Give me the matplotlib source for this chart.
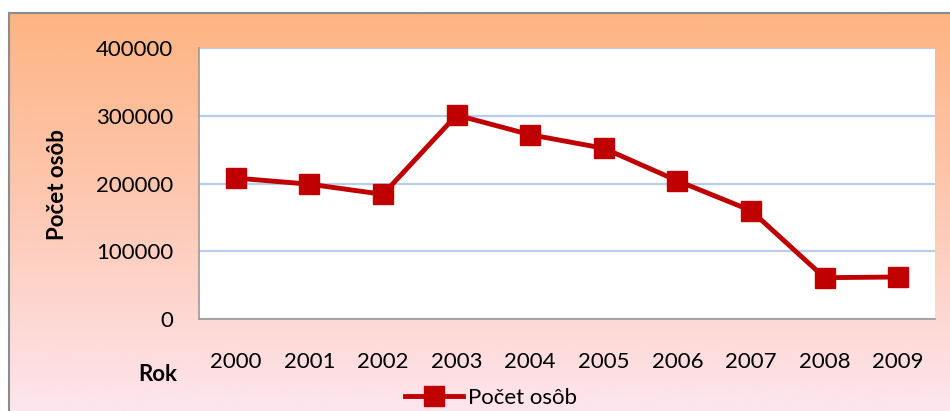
import numpy as np
import matplotlib
matplotlib.use("Agg")
import matplotlib.pyplot as plt
from matplotlib.colors import LinearSegmentedColormap
from matplotlib.lines import Line2D

years = ["2000", "2001", "2002", "2003", "2004", "2005", "2006", "2007", "2008", "2009"]
pocet_osob = [208000, 199000, 184000, 301000, 272000, 252000, 204000, 160000, 61000, 62000]
y_ticks = [0, 100000, 200000, 300000, 400000]
series_name = "Počet osôb"
y_label = "Počet osôb"
x_label = "Rok"

plt.rcParams['font.family'] = ['Lato', 'DejaVu Sans']

W, H = 950, 411
fig = plt.figure(figsize=(W / 100, H / 100), dpi=100)
fig.patch.set_facecolor("white")

# gradient background for the chart area
bg = fig.add_axes([8 / W, 0, 1 - 8 / W, 1 - 13 / H], zorder=0)
cmap = LinearSegmentedColormap.from_list("g", ["#FDB482", "#FDC9B4", "#FDE5EE"])
grad = np.linspace(0, 1, 256).reshape(-1, 1)
bg.imshow(grad, aspect="auto", cmap=cmap, extent=[0, 1, 0, 1], origin="upper")
bg.set_xlim(0, 1)
bg.set_ylim(0, 1)
bg.axis("off")

# frame lines (left and top)
fig.add_artist(Line2D([8.5 / W, 8.5 / W], [0, 1 - 13 / H], color="#8C8C8C", lw=1.5, transform=fig.transFigure))
fig.add_artist(Line2D([8.5 / W, 1], [1 - 13 / H, 1 - 13 / H], color="#8C8C8C", lw=1.5, transform=fig.transFigure))

ax = fig.add_axes([199 / W, 1 - 319 / H, (935 - 199) / W, (319 - 48) / H], zorder=1)
ax.set_facecolor("white")
x = np.arange(len(years))
ax.plot(x, pocet_osob, color="#C00000", lw=3.5, marker="s", markersize=14,
        markeredgecolor="#C00000", zorder=3, label=series_name)

ax.set_xlim(-0.5, len(years) - 0.5)
ax.set_ylim(0, 400000)
ax.set_yticks(y_ticks)
ax.set_yticklabels([str(v) for v in y_ticks])
ax.set_xticks(x)
ax.set_xticklabels(years)
ax.yaxis.grid(True, color="#B9CDEA", lw=1.6, zorder=0)
ax.set_axisbelow(True)
ax.tick_params(axis="both", length=0, labelsize=16, colors="black")
ax.tick_params(axis="x", pad=24)
ax.tick_params(axis="y", pad=18.5)
for s in ["top", "right"]:
    ax.spines[s].set_visible(False)
ax.spines["left"].set_color("#9A9A9A")
ax.spines["bottom"].set_color("#9A9A9A")
ax.spines["left"].set_linewidth(1.2)
ax.spines["bottom"].set_linewidth(1.2)

fig.text(58 / W, 1 - 185 / H, y_label, rotation=90, ha="center", va="center",
         fontsize=16, fontweight="bold")
fig.text(158 / W, 1 - 374 / H, x_label, ha="center", va="center",
         fontsize=16, fontweight="bold")

fig.legend(handles=ax.get_lines(), loc="center", bbox_to_anchor=(491 / W, 1 - 398 / H),
           frameon=False, fontsize=16, handlelength=2.6, handletextpad=0.2,
           borderpad=0, borderaxespad=0)

fig.savefig("out.png", dpi=100)
